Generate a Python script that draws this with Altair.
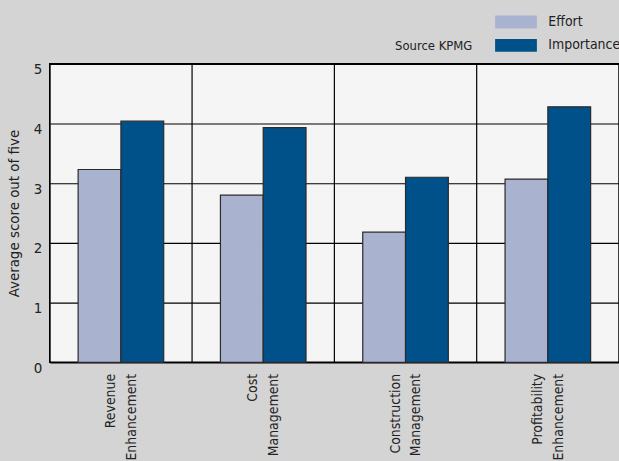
import altair as alt
import pandas as pd

categories = ["Revenue Enhancement", "Cost Management", "Construction Management", "Profitability Enhancement"]
series = ["Effort", "Importance"]
effort = [3.23, 2.80, 2.18, 3.07]
importance = [4.04, 3.93, 3.10, 4.28]
colors = ["#a9b3cf", "#00508a"]
y_ticks = [0, 1, 2, 3, 4, 5]

rows = []
for c, e, i in zip(categories, effort, importance):
    rows.append({"cat": c, "series": "Effort", "value": e})
    rows.append({"cat": c, "series": "Importance", "value": i})
df = pd.DataFrame(rows)
cat_df = pd.DataFrame({"cat": categories})

FONT = "DejaVu Sans Condensed, Liberation Sans, sans-serif"

xscale = alt.Scale(domain=categories, paddingInner=0, paddingOuter=0)

bars = alt.Chart(df).mark_bar(stroke="#2a2a2a", strokeWidth=1.2).encode(
    x=alt.X("cat:N", sort=categories, scale=xscale, title=None,
            axis=alt.Axis(labelAngle=-90, labelExpr="split(datum.label, ' ')",
                          labelAlign="right", labelBaseline="middle",
                          labelPadding=11, labelLineHeight=21, labelOffset=-10,
                          ticks=False, domain=False, grid=False,
                          labelFontSize=14, labelColor="#222", labelFont=FONT)),
    xOffset=alt.XOffset("series:N", sort=series,
                        scale=alt.Scale(paddingInner=0, paddingOuter=0.663)),
    y=alt.Y("value:Q", scale=alt.Scale(domain=[0, 5], nice=False),
            title="Average score out of five",
            axis=alt.Axis(values=y_ticks, grid=True, gridColor="#000", gridWidth=1.2,
                          gridOpacity=1, ticks=False, domain=False,
                          labelFontSize=15, labelColor="#222", labelFont=FONT,
                          labelPadding=8, labelOffset=5,
                          titleFont=FONT, titleFontSize=15, titleFontWeight="normal",
                          titleColor="#222", titlePadding=12)),
    color=alt.Color("series:N", sort=series,
                    scale=alt.Scale(domain=series, range=colors),
                    legend=alt.Legend(title=None, orient="none", legendX=461.5, legendY=-49,
                                      symbolType="M-3.23,-1L3.23,-1L3.23,1L-3.23,1Z",
                                      symbolSize=169, symbolStrokeWidth=0,
                                      symbolOpacity=1,
                                      labelFont=FONT, labelFontSize=14, labelColor="#222",
                                      labelOffset=25.5, rowPadding=9.5, padding=0)),
)

vlines = alt.Chart(cat_df).mark_rule(color="#000", strokeWidth=1.2).encode(
    x=alt.X("cat:N", sort=categories, bandPosition=0, scale=xscale),
)

source = alt.Chart(pd.DataFrame({"t": ["Source KPMG"]})).mark_text(
    align="left", baseline="middle", font=FONT, fontSize=13, color="#222"
).encode(x=alt.value(347), y=alt.value(-18), text="t:N")

chart = alt.layer(vlines, bars, source).properties(
    width=572, height=300,
    background="#d4d4d4",
    padding={"left": 50, "top": 63, "right": 0, "bottom": 98},
    autosize=alt.AutoSizeParams(type="none"),
).configure_view(fill="#f5f5f5", stroke="#000", strokeWidth=1.5)

chart.save("out.html", embed_options={"renderer": "svg", "actions": False})
